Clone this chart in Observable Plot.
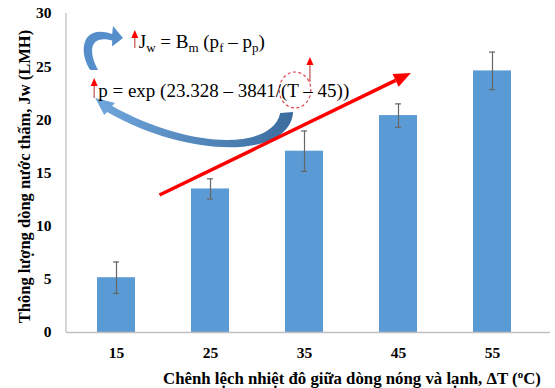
<!DOCTYPE html>
<html><head><meta charset="utf-8">
<script src="https://cdn.jsdelivr.net/npm/d3@7"></script>
<script src="https://cdn.jsdelivr.net/npm/@observablehq/plot@0.6"></script>
<style>body{margin:0;background:#fff}#chart svg{display:block}</style>
</head><body><div id="chart"></div>
<script>
// ---- data ----
const temps = ["15", "25", "35", "45", "55"];
const flux = [5.15, 13.5, 17.05, 20.4, 24.6];
const errs = [1.48, 0.95, 1.9, 1.1, 1.77];
const yTicks = [0, 5, 10, 15, 20, 25, 30];
const yTitle = "Thông lượng dòng nước thấm, Jw (LMH)";
const xTitleMain = "Chênh lệch nhiệt đô giữa dòng nóng và lạnh, ΔT (";

const rows = temps.map((t, i) => ({t, v: flux[i], lo: flux[i] - errs[i], hi: flux[i] + errs[i]}));

const serif = "Liberation Serif";

const plot = Plot.plot({
  width: 555, height: 388,
  marginLeft: 66, marginRight: 5, marginTop: 13, marginBottom: 56,
  style: {fontFamily: serif, fontSize: "15.5px", fontWeight: "bold", color: "#000", background: "#fff"},
  x: {domain: temps, paddingInner: 0.6, paddingOuter: 0.3475, align: 0.44, label: null},
  y: {domain: [0, 30], label: null},
  marks: [
    Plot.barY(rows, {x: "t", y: "v", fill: "#5b9bd5"}),
    Plot.ruleX(rows, {x: "t", y1: "lo", y2: "hi", stroke: "#666", strokeWidth: 1.2}),
    Plot.tickY(rows, {x: "t", y: "lo", stroke: "#666", strokeWidth: 1.2, insetLeft: 16, insetRight: 16}),
    Plot.tickY(rows, {x: "t", y: "hi", stroke: "#666", strokeWidth: 1.2, insetLeft: 16, insetRight: 16}),
    Plot.ruleY([0], {stroke: "#bfbfbf", strokeWidth: 1.3}),
    Plot.axisY({ticks: yTicks, tickSize: 0, tickPadding: 15, label: null}),
    Plot.axisX({tickSize: 0, tickPadding: 14, label: null})
  ]
});
document.getElementById("chart").appendChild(plot);

// ---- annotations (placed in data space: t = temperature, v = flux) ----
const xs = plot.scale("x"), ys = plot.scale("y");
const bw = xs.bandwidth, step = xs.apply(temps[1]) - xs.apply(temps[0]);
const xc0 = xs.apply(temps[0]) + bw / 2;
const P = ([t, v]) => [xc0 + (t - 15) / 10 * step, ys.apply(v)];
const svg = d3.select(plot);

// left axis line
svg.append("line")
  .attr("x1", 66).attr("x2", 66)
  .attr("y1", ys.apply(30)).attr("y2", ys.apply(0))
  .attr("stroke", "#bfbfbf").attr("stroke-width", 1.3);

const defs = svg.append("defs");
const g1 = defs.append("linearGradient").attr("id", "gBig").attr("x1", "0").attr("x2", "1").attr("y1", "0").attr("y2", "0");
g1.append("stop").attr("offset", "0").attr("stop-color", "#6fa6dc");
g1.append("stop").attr("offset", "1").attr("stop-color", "#3b6c9e");

const pt = p => P(p).map(d => d.toFixed(1)).join(",");
const pathOf = segs => segs.map(([c, ...ps]) => c + ps.map(pt).join(" ")).join(" ") + "Z";

// big curved blue arrow (from (T) back to p)
const big = [
  ["M", [32.47, 20.60]], ["C", [31.63, 17.12], [23.0, 17.12], [14.58, 21.25]],
  ["L", [14.89, 21.54]], ["L", [12.79, 22.01]], ["L", [13.74, 20.41]], ["L", [14.05, 20.69]],
  ["C", [23.0, 16.18], [33.53, 16.36], [33.84, 20.69]]
];
svg.append("path").attr("d", pathOf(big)).attr("fill", "url(#gBig)");

// small curved blue arrow (from p up to Jw), filled tapered shape
const small = [
  ["M", [12.26, 24.64]], ["C", [11.0, 26.3], [11.3, 29.0], [14.6, 28.03]],
  ["L", [14.68, 28.78]], ["L", [15.74, 27.65]], ["L", [14.58, 26.86]], ["L", [14.6, 27.4]],
  ["C", [12.2, 28.0], [12.0, 26.4], [13.1, 24.64]]
];
svg.append("path").attr("d", pathOf(small)).attr("fill", "#558ecb");

// red trend arrow
const trend = [[19.63, 12.88], [46.37, 24.36]];
const [a0, a1] = trend.map(P);
const ang = Math.atan2(a1[1] - a0[1], a1[0] - a0[0]);
const hl = 17, hw = 7;
const back = [a1[0] - hl * Math.cos(ang), a1[1] - hl * Math.sin(ang)];
svg.append("line")
  .attr("x1", a0[0]).attr("y1", a0[1]).attr("x2", back[0]).attr("y2", back[1])
  .attr("stroke", "#ff0000").attr("stroke-width", 3.5);
svg.append("path")
  .attr("d", `M${a1[0]},${a1[1]} L${back[0] - hw * Math.sin(ang)},${back[1] + hw * Math.cos(ang)} L${back[0] + hw * Math.sin(ang)},${back[1] - hw * Math.cos(ang)}Z`)
  .attr("fill", "#ff0000");

// small red up-arrows
const ups = [[[17.0, 26.71], [17.0, 28.4]], [[12.68, 22.01], [12.68, 23.89]], [[35.63, 23.51], [35.63, 25.86]]];
for (const [s, e] of ups) {
  const [p0, p1] = [P(s), P(e)];
  svg.append("line").attr("x1", p0[0]).attr("x2", p1[0]).attr("y1", p0[1]).attr("y2", p1[1] + 6)
    .attr("stroke", "#c0504d").attr("stroke-width", 1.2);
  svg.append("path").attr("d", `M${p1[0]},${p1[1]} L${p1[0] - 3.5},${p1[1] + 8} L${p1[0] + 3.5},${p1[1] + 8}Z`).attr("fill", "#ff0000");
}

// dashed circle around (T
const cc = P([34.05, 22.76]);
svg.append("ellipse").attr("cx", cc[0]).attr("cy", cc[1])
  .attr("rx", 1.68 / 10 * step).attr("ry", ys.apply(0) - ys.apply(1.69))
  .attr("fill", "none").attr("stroke", "#e0474c").attr("stroke-width", 1.2).attr("stroke-dasharray", "3,2.5");

// equations
const eq = svg.append("g").attr("font-family", serif).attr("font-size", 19).attr("font-weight", "normal")
  .attr("fill", "#000").attr("text-anchor", "start");
const l1 = P([17.42, 26.71]);
const t1 = eq.append("text").attr("x", l1[0]).attr("y", l1[1]);
const parts1 = [["J"], ["w", 1], [" = B"], ["m", 1], [" (p"], ["f", 1], [" – p"], ["p", 1], [")"]];
let shifted = false;
for (const [s, sub] of parts1) {
  const dy = sub ? 4 : (shifted ? -4 : 0);
  t1.append("tspan").attr("font-size", sub ? 13 : 19).attr("dy", dy).text(s);
  shifted = !!sub;
}
const l2 = P([13.11, 22.1]);
eq.append("text").attr("x", l2[0]).attr("y", l2[1]).text("p = exp (23.328 – 3841/(T – 45))");

// axis titles
svg.append("text")
  .attr("transform", `translate(30,${(ys.apply(0) + ys.apply(30)) / 2 + 4}) rotate(-90)`)
  .attr("text-anchor", "middle").attr("font-family", serif).attr("font-size", 16.5).attr("font-weight", "bold")
  .text(yTitle);
const xt = svg.append("text").attr("x", 352).attr("y", 384)
  .attr("text-anchor", "middle").attr("font-family", serif).attr("font-size", 16.8).attr("font-weight", "bold");
xt.append("tspan").text(xTitleMain);
xt.append("tspan").attr("font-size", 11).attr("dy", -6).text("o");
xt.append("tspan").attr("dy", 6).text("C)");
</script></body></html>
